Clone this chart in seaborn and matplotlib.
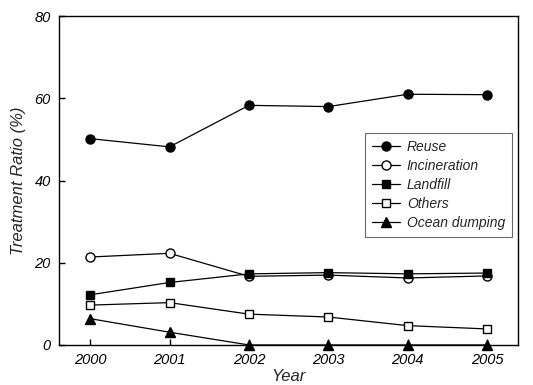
import pandas as pd
import seaborn as sns
import matplotlib.pyplot as plt

years = [2000, 2001, 2002, 2003, 2004, 2005]
reuse = [50.2, 48.2, 58.3, 58.0, 61.0, 60.9]
incineration = [21.4, 22.3, 16.7, 17.0, 16.3, 16.8]
landfill = [12.2, 15.2, 17.3, 17.6, 17.3, 17.5]
others = [9.7, 10.3, 7.5, 6.8, 4.7, 3.9]
ocean = [6.4, 3.1, 0, 0, 0, 0]

series = {
    'Reuse': reuse,
    'Incineration': incineration,
    'Landfill': landfill,
    'Others': others,
    'Ocean dumping': ocean,
}
styles = {
    'Reuse': ('o', 'black'),
    'Incineration': ('o', 'white'),
    'Landfill': ('s', 'black'),
    'Others': ('s', 'white'),
    'Ocean dumping': ('^', 'black'),
}

sns.set_style('ticks')
plt.rcParams['font.family'] = ['Liberation Sans', 'DejaVu Sans']

fig = plt.figure(figsize=(5.33, 3.85), dpi=100)
ax = fig.add_axes([0.111, 0.104, 0.861, 0.854])

for name, vals in series.items():
    df = pd.DataFrame({'Year': years, 'Ratio': vals})
    m, fc = styles[name]
    sns.lineplot(data=df, x='Year', y='Ratio', ax=ax, color='black', lw=0.9,
                 marker=m, markerfacecolor=fc, markeredgecolor='black',
                 markeredgewidth=1, markersize=6.5 if m != 's' else 6, label=name,
                 clip_on=False, zorder=3)

ax.set_xlim(1999.61, 2005.39)
ax.set_ylim(0, 80)
ax.set_xticks(years)
ax.set_yticks([0, 20, 40, 60, 80])
ax.tick_params(direction='in', length=4, width=1, labelsize=10.5, colors='black', pad=6)
for lab in ax.get_xticklabels() + ax.get_yticklabels():
    lab.set_style('italic')
for s in ax.spines.values():
    s.set_color('black')
    s.set_linewidth(1)
ax.set_xlabel('Year', fontsize=12, style='italic', labelpad=1)
ax.set_ylabel('Treatment Ratio (%)', fontsize=12, style='italic', labelpad=6)

leg = ax.legend(loc='upper left', bbox_to_anchor=(0.667, 0.644), frameon=True,
                fancybox=False, edgecolor='#444444',
                prop={'style': 'italic', 'size': 10}, handlelength=2.0,
                labelspacing=0.35, borderpad=0.5, handletextpad=0.5,
                borderaxespad=0)
leg.get_frame().set_linewidth(0.8)

fig.savefig('out.png', dpi=100)
